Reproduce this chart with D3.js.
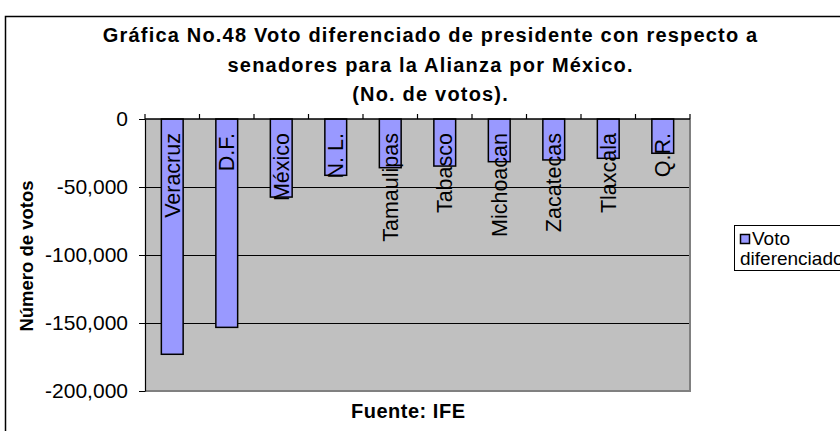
<!DOCTYPE html>
<html>
<head>
<meta charset="utf-8">
<script src="https://cdn.jsdelivr.net/npm/d3@7"></script>
<style>
  html, body { margin: 0; padding: 0; background: #fff; }
  svg { display: block; }
  text { font-family: "Liberation Sans", Arial, sans-serif; fill: #000; }
</style>
</head>
<body>
<svg id="chart" width="840" height="431"></svg>
<script>
// ---- data ----
const categories = ["Veracruz", "D.F.", "México", "N. L.", "Tamaulipas", "Tabasco", "Michoacan", "Zacatecas", "Tlaxcala", "Q.R."];
const values = [-173000, -153200, -57400, -41400, -35800, -34600, -31400, -30100, -28900, -25200];
const yTicks = [0, -50000, -100000, -150000, -200000];
const titleLines = ["Gráfica No.48 Voto diferenciado de presidente con respecto a", "senadores para la Alianza por México.", "(No. de votos)."];
const yTitle = "Número de votos";
const xTitle = "Fuente: IFE";
const seriesName = ["Voto", "diferenciado"];

// ---- layout ----
const svg = d3.select("#chart");
const plot = { left: 145, right: 690, top: 119, bottom: 391 };
const barColor = "#9999FF";

const fmt = d3.formatLocale({ decimal: ".", thousands: ",", grouping: [3], currency: ["$", ""], minus: "-" }).format(",");

// outer chart border
svg.append("rect")
  .attr("x", 5.5).attr("y", 16.5).attr("width", 900).attr("height", 500)
  .attr("fill", "#fff").attr("stroke", "#000").attr("stroke-width", 1.5);

// scales
const x = d3.scaleBand().domain(categories).range([plot.left, plot.right]).paddingInner(0.6).paddingOuter(0.3);
const y = d3.scaleLinear().domain([-200000, 0]).range([plot.bottom, plot.top]);

// plot area
svg.append("rect")
  .attr("x", plot.left).attr("y", plot.top)
  .attr("width", plot.right - plot.left).attr("height", plot.bottom - plot.top)
  .attr("fill", "#C0C0C0");

// gridlines
svg.append("g").selectAll("line")
  .data(yTicks.filter(d => d !== 0 && d !== -200000))
  .join("line")
  .attr("x1", plot.left).attr("x2", plot.right)
  .attr("y1", d => Math.round(y(d)) + 0.5).attr("y2", d => Math.round(y(d)) + 0.5)
  .attr("stroke", "#000").attr("stroke-width", 1);

// plot border right/bottom (gray)
svg.append("path")
  .attr("d", `M${plot.right},${plot.top}V${plot.bottom}H${plot.left}`)
  .attr("fill", "none").attr("stroke", "#808080").attr("stroke-width", 2);

// bars
svg.append("g").selectAll("rect")
  .data(values)
  .join("rect")
  .attr("x", (d, i) => x(categories[i]))
  .attr("y", y(0))
  .attr("width", x.bandwidth())
  .attr("height", d => y(d) - y(0))
  .attr("fill", barColor)
  .attr("stroke", "#000").attr("stroke-width", 1.5);

// y axis
const yAxis = d3.axisLeft(y).tickValues(yTicks).tickFormat(fmt).tickSize(6).tickSizeOuter(0).tickPadding(11);
const gy = svg.append("g").attr("transform", `translate(${plot.left},0)`).call(yAxis);
gy.select(".domain").attr("stroke", "#000").attr("stroke-width", 1.2);
gy.selectAll(".tick line").attr("stroke", "#000");
gy.selectAll(".tick text").attr("font-size", "21px").attr("font-family", "Liberation Sans, Arial, sans-serif").attr("fill", "#000");

// category axis at zero with ticks pointing up at boundaries
const boundaries = d3.range(categories.length + 1).map(i => plot.left + i * x.step());
svg.append("line")
  .attr("x1", plot.left).attr("x2", plot.right)
  .attr("y1", y(0)).attr("y2", y(0))
  .attr("stroke", "#000").attr("stroke-width", 1.5);
svg.append("g").selectAll("line")
  .data(boundaries)
  .join("line")
  .attr("x1", d => d).attr("x2", d => d)
  .attr("y1", y(0)).attr("y2", y(0) - 5)
  .attr("stroke", "#000").attr("stroke-width", 1.2);

// category labels along bars (rotated)
svg.append("g").selectAll("text")
  .data(categories)
  .join("text")
  .attr("transform", d => `translate(${x(d) + x.bandwidth() / 2 + 7.5},${y(0) + 14}) rotate(-90)`)
  .attr("text-anchor", "end")
  .attr("font-size", "21.5px")
  .text(d => d);

// title
const titleG = svg.append("g");
titleLines.forEach((t, i) => {
  const el = titleG.append("text")
    .attr("x", 430).attr("y", 42 + i * 29.5)
    .attr("text-anchor", "middle")
    .attr("font-size", "20px").attr("font-weight", "bold")
    .text(t);
  const w = el.node().getComputedTextLength();
  el.attr("textLength", w * 1.12).attr("lengthAdjust", "spacing");
});

// y axis title
svg.append("text")
  .attr("transform", `translate(33,256) rotate(-90)`)
  .attr("text-anchor", "middle")
  .attr("font-size", "18.5px").attr("font-weight", "bold")
  .text(yTitle);

// x axis title
const xt = svg.append("text")
  .attr("x", 408).attr("y", 418)
  .attr("text-anchor", "middle")
  .attr("font-size", "20px").attr("font-weight", "bold")
  .text(xTitle);
xt.attr("textLength", 114).attr("lengthAdjust", "spacing");

// legend
const lg = svg.append("g");
lg.append("rect")
  .attr("x", 734.5).attr("y", 225.5).attr("width", 200).attr("height", 45)
  .attr("fill", "#fff").attr("stroke", "#000").attr("stroke-width", 1);
lg.append("rect")
  .attr("x", 740.5).attr("y", 234.5).attr("width", 9).attr("height", 9)
  .attr("fill", barColor).attr("stroke", "#000").attr("stroke-width", 1.5);
seriesName.forEach((t, i) => {
  lg.append("text")
    .attr("x", i === 0 ? 752 : 740).attr("y", 245 + i * 19.5)
    .attr("font-size", "19px")
    .text(t);
});
</script>
</body>
</html>
